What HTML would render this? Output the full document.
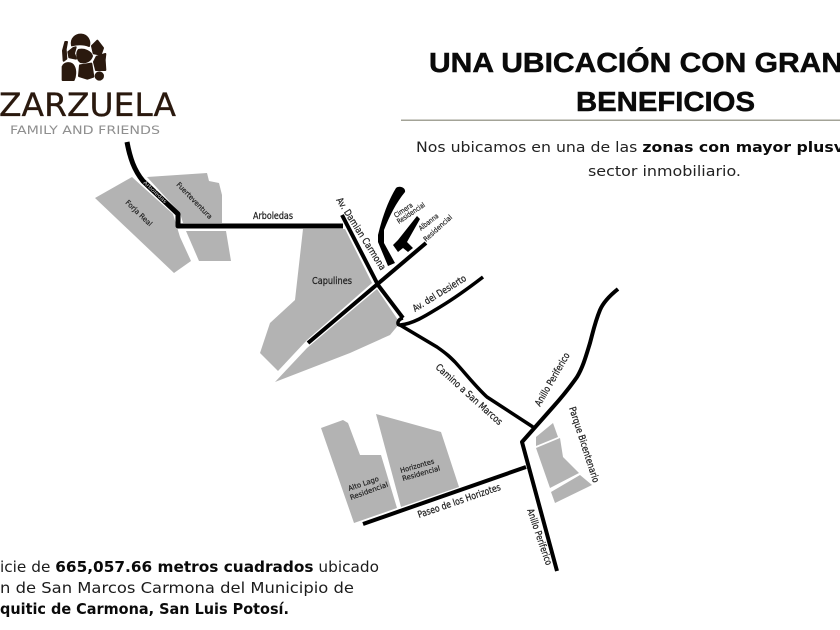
<!DOCTYPE html>
<html lang="es">
<head>
<meta charset="utf-8">
<title>Una ubicación con grandes beneficios</title>
<style>
html,body{margin:0;padding:0;background:#fff;width:840px;height:630px;overflow:hidden}
svg{display:block}
.m{font-family:"DejaVu Sans","Liberation Sans",sans-serif;fill:#222;stroke:#222;stroke-width:.25px;font-size:9.5px}
.s{font-size:7px;stroke-width:.2px}
.t{font-family:"Liberation Sans",sans-serif;font-weight:700;font-size:27.5px;fill:#0a0a0a;stroke:#0a0a0a;stroke-width:.5px}
.b{font-family:"DejaVu Sans","Liberation Sans",sans-serif;font-size:14px;fill:#222}
.f{font-family:"DejaVu Sans","Liberation Sans",sans-serif;font-size:15.5px;fill:#1c1c1c}
.k{font-weight:700;fill:#0a0a0a}
.l{font-family:"DejaVu Sans","Liberation Sans",sans-serif}
</style>
</head>
<body>
<svg xmlns="http://www.w3.org/2000/svg" width="840" height="630" viewBox="0 0 840 630">
<rect width="840" height="630" fill="#fff"/>

<!-- Logo -->
<g transform="translate(0,20) scale(.3333)" fill="#2a190e" stroke="#2a190e" stroke-width="6" stroke-linejoin="round">
<path d="M216 76C212 55 228 43 244 44C262 45 271 62 267 78C252 72 232 72 216 76Z"/>
<path d="M276 78L292 62L309 84L302 104L281 100Z"/>
<path d="M196 66L201 66L197 88L199 116L191 122L189 92Z"/>
<path d="M220 84L227 82L222 100L228 116L208 112L205 96Z"/>
<path d="M236 90C252 86 272 94 276 108C272 122 258 130 242 126C232 120 228 100 236 90Z"/>
<path d="M316 102L314 120L316 150L288 150L282 126L290 110Z"/>
<path d="M240 136L274 131L280 170L262 176L237 168Z"/>
<path d="M188 180L188 140C192 128 214 124 222 140C228 152 226 170 221 180Z"/>
<circle cx="298" cy="168" r="11"/>
</g>
<text class="l" x="-1" y="116" font-size="32" fill="#2a190e" stroke="#2a190e" stroke-width=".3" textLength="177" lengthAdjust="spacingAndGlyphs">ZARZUELA</text>
<text class="l" x="10" y="134" font-size="11.5" fill="#8f8f8f" textLength="150" lengthAdjust="spacingAndGlyphs">FAMILY AND FRIENDS</text>

<!-- Heading -->
<text class="t" x="429" y="72" textLength="414" lengthAdjust="spacingAndGlyphs">UNA UBICACIÓN CON GRAN</text>
<text class="t" x="576" y="111" textLength="179" lengthAdjust="spacingAndGlyphs">BENEFICIOS</text>
<rect x="401" y="119.5" width="439" height="1.5" fill="#a3a397"/>
<text class="b" x="416" y="152" textLength="428" lengthAdjust="spacingAndGlyphs">Nos ubicamos en una de las <tspan class="k">zonas con mayor plusv</tspan></text>
<text class="b" x="588" y="176" textLength="153" lengthAdjust="spacingAndGlyphs">sector inmobiliario.</text>

<!-- Bottom text -->
<text class="f" x="0" y="572" textLength="379" lengthAdjust="spacingAndGlyphs">icie de <tspan class="k">665,057.66 metros cuadrados</tspan> ubicado</text>
<text class="f" x="0" y="593" textLength="354" lengthAdjust="spacingAndGlyphs">n de San Marcos Carmona del Municipio de</text>
<text class="f k" x="0" y="614" textLength="289" lengthAdjust="spacingAndGlyphs">quitic de Carmona, San Luis Potosí.</text>

<!-- Grey parcels -->
<g fill="#b3b3b3">
<polygon points="95,198 132,177 143,187 173,214 180,237 191,261 174,273"/>
<polygon points="147,177 207,173 209,181 219,183 222,195 222,223 183,223 180,213"/>
<polygon points="186,231 226,231 231,261 199,261"/>
<polygon points="303,229 345,229 372,283 307,340 278,371 260,353 270,323 295,300"/>
<polygon points="377,289 400,323 390,335 350,353 275,382 307,348"/>
<polygon points="536,437 553,423 558,437 536,446"/>
<polygon points="536,448 560,438 563,457 579,473 550,488"/>
<polygon points="551,492 580,475 592,485 555,503"/>
<polygon points="376,414 441,432 459,487 401,507"/>
<polygon points="321,428 343,420 348,423 360,455 381,455 397,508 354,523"/>
</g>

<!-- Roads -->
<g fill="none" stroke="#000" stroke-linejoin="round" stroke-linecap="butt">
<path stroke-width="5" d="M127 142C130 158 134 170 143 181L178 214L178 226L343 226"/>
<path stroke-width="4" d="M342 215L378 285L403 318"/>
<path stroke-width="4" d="M308 343L426 243"/>
<path stroke-width="3.5" d="M403 318C398 319 396 325 400 325C414 324 430 313 440 307C455 298 470 287 483 277"/>
<path stroke-width="3.5" d="M400 325L437 347C447 354 450 357 455 362C466 374 476 387 487 397L533 427"/>
<path stroke-width="4" d="M618 289C608 297 603 303 600 310C595 322 593 332 590 343C586 356 583 367 577 377C570 387 562 397 553 407L522 442L557 571"/>
<path stroke-width="4" d="M363 524L526 467"/>
</g>
<!-- Cimera / Albanna blocks -->
<g fill="#000">
<path d="M396 188C400 185 406 188 405 192C396 203 390 215 384 230L384 243L395 263L388 266L378 242L378 235C382 218 388 201 396 188Z"/>
<path d="M417 216L420 219L407 242L413 248L408 252L403 248L398 252L393 245L398 240Z"/>
</g>

<!-- Map labels -->
<text class="m" x="253" y="219" textLength="40" lengthAdjust="spacingAndGlyphs">Arboledas</text>
<text class="m" x="312" y="284" textLength="40" lengthAdjust="spacingAndGlyphs">Capulines</text>
<text class="m" transform="translate(336,200) rotate(57.6)" textLength="84" lengthAdjust="spacingAndGlyphs">Av. Damian Carmona</text>
<text class="m s" transform="translate(396,218) rotate(-34)" textLength="21" lengthAdjust="spacingAndGlyphs">Cimera</text>
<text class="m s" transform="translate(399,224) rotate(-34)" textLength="32" lengthAdjust="spacingAndGlyphs">Residencial</text>
<text class="m s" transform="translate(421,231) rotate(-38)" textLength="23" lengthAdjust="spacingAndGlyphs">Albanna</text>
<text class="m s" transform="translate(426,242) rotate(-42)" textLength="36" lengthAdjust="spacingAndGlyphs">Residencial</text>
<text class="m" transform="translate(415,312) rotate(-31.6)" textLength="61" lengthAdjust="spacingAndGlyphs">Av. del Desierto</text>
<text class="m" transform="translate(435,368) rotate(42)" textLength="86" lengthAdjust="spacingAndGlyphs">Camino a San Marcos</text>
<text class="m" transform="translate(540,407) rotate(-60)" textLength="60" lengthAdjust="spacingAndGlyphs">Anillo Periferico</text>
<text class="m" transform="translate(569,408) rotate(72)" textLength="79" lengthAdjust="spacingAndGlyphs">Parque Bicentenario</text>
<text class="m" transform="translate(527,510) rotate(71)" textLength="59" lengthAdjust="spacingAndGlyphs">Anillo Periferico</text>
<text class="m" transform="translate(419,518) rotate(-19)" textLength="87" lengthAdjust="spacingAndGlyphs">Paseo de los Horizotes</text>
<text class="m s" transform="translate(401,473) rotate(-16)" textLength="35" lengthAdjust="spacingAndGlyphs">Horizontes</text>
<text class="m s" transform="translate(403,481) rotate(-16)" textLength="39" lengthAdjust="spacingAndGlyphs">Residencial</text>
<text class="m s" transform="translate(349,491) rotate(-19)" textLength="32" lengthAdjust="spacingAndGlyphs">Alto Lago</text>
<text class="m s" transform="translate(351,500) rotate(-20)" textLength="40" lengthAdjust="spacingAndGlyphs">Residencial</text>
<text class="m s" transform="translate(125,203) rotate(44)" textLength="34" lengthAdjust="spacingAndGlyphs">Forja Real</text>
<text class="m s" transform="translate(176,185) rotate(46)" textLength="48" lengthAdjust="spacingAndGlyphs">Fuerteventura</text>
<text transform="translate(143,183) rotate(43)" style="font-family:'DejaVu Sans',sans-serif;font-size:5px;fill:#ddd" textLength="30" lengthAdjust="spacingAndGlyphs">Arboledas</text>
</svg>
</body>
</html>
